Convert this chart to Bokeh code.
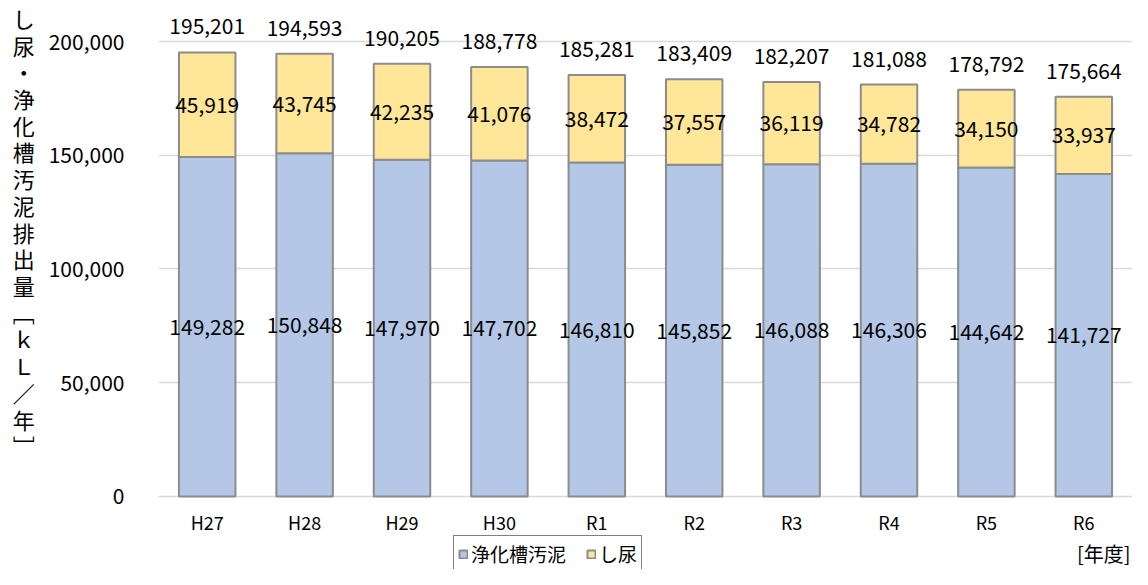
from bokeh.plotting import figure
from bokeh.models import (ColumnDataSource, FactorRange, FixedTicker, NumeralTickFormatter,
                          Legend, LegendItem, Label, Range1d)
from bokeh.core.properties import value
from bokeh.embed import file_html
from bokeh.resources import INLINE

years = ["H27", "H28", "H29", "H30", "R1", "R2", "R3", "R4", "R5", "R6"]
johkaso = [149282, 150848, 147970, 147702, 146810, 145852, 146088, 146306, 144642, 141727]
shinyo = [45919, 43745, 42235, 41076, 38472, 37557, 36119, 34782, 34150, 33937]
totals = [195201, 194593, 190205, 188778, 185281, 183409, 182207, 181088, 178792, 175664]
y_ticks = [0, 50000, 100000, 150000, 200000]
series_names = ["浄化槽汚泥", "し尿"]
y_title_chars = ["し", "尿", "・", "浄", "化", "槽", "汚", "泥", "排", "出", "量", "﹇", "ｋ", "Ｌ", "／", "年", "﹈"]
x_unit_label = "[年度]"

FONT = "Noto Sans CJK JP"
BLUE = "#b4c7e7"
YELLOW = "#ffe699"
EDGE = "#8c8c8c"

src = ColumnDataSource(dict(
    year=years,
    johkaso=johkaso,
    shinyo=shinyo,
    total=totals,
    zero=[0] * len(years),
    mid_j=[j / 2 for j in johkaso],
    mid_s=[j + s / 2 for j, s in zip(johkaso, shinyo)],
    lab_j=[f"{v:,}" for v in johkaso],
    lab_s=[f"{v:,}" for v in shinyo],
    lab_t=[f"{v:,}" for v in totals],
))

p = figure(width=1132, height=569, output_backend="svg", toolbar_location=None,
           x_range=FactorRange(*years, range_padding=0),
           y_range=Range1d(-32088, 218022),
           min_border_left=158, min_border_right=0, min_border_top=0, min_border_bottom=0)

rs = p.vbar_stack(["johkaso", "shinyo"], x="year", width=0.58, source=src,
                  fill_color=[BLUE, YELLOW], line_color=EDGE, line_width=2)

common = dict(text_font=value(FONT), text_font_size="21px", text_color="black",
              text_align="center", text_baseline="middle")
p.text(x="year", y="mid_j", text="lab_j", source=src, **common)
p.text(x="year", y="mid_s", text="lab_s", source=src, **common)
p.text(x="year", y="total", text="lab_t", y_offset=-26, source=src, **common)
# category (x-axis) labels
p.text(x="year", y="zero", text="year", y_offset=26, source=src,
       text_font=value(FONT), text_font_size="18px", text_color="black",
       text_align="center", text_baseline="middle")

p.outline_line_color = None
p.xaxis.visible = False
p.xgrid.grid_line_color = None
p.ygrid.grid_line_color = "#d9d9d9"
p.ygrid.grid_line_width = 1.5

ya = p.yaxis[0]
ya.ticker = FixedTicker(ticks=y_ticks)
ya.formatter = NumeralTickFormatter(format="0,0")
ya.axis_line_color = None
ya.major_tick_line_color = None
ya.minor_tick_line_color = None
ya.major_label_text_font = FONT
ya.major_label_text_font_size = "21px"
ya.major_label_text_color = "black"
ya.major_label_standoff = 28
ya.axis_label = "\n".join(y_title_chars + ["　"] * 4)
ya.axis_label_orientation = "horizontal"
ya.axis_label_text_font = FONT
ya.axis_label_text_font_size = "22px"
ya.axis_label_text_font_style = "normal"
ya.axis_label_text_color = "black"
ya.axis_label_text_line_height = 0.835
ya.axis_label_standoff = 11

legend = Legend(items=[LegendItem(label=series_names[0], renderers=[rs[0]]),
                       LegendItem(label=series_names[1], renderers=[rs[1]])],
                orientation="horizontal", location=(295, -3))
legend.label_text_font = FONT
legend.label_text_font_size = "19px"
legend.label_text_color = "black"
legend.label_height = 10
legend.glyph_width = 10
legend.glyph_height = 10
legend.spacing = 20
legend.padding = 4
legend.margin = 0
legend.border_line_color = "black"
legend.border_line_width = 1
legend.label_standoff = 3
p.add_layout(legend, "center")

p.add_layout(Label(x=1130, y=553, x_units="canvas", y_units="canvas", text=x_unit_label,
                   text_font=FONT, text_font_size="20px", text_align="right",
                   text_baseline="middle", text_color="black"))

open("out.html", "w").write(file_html(p, INLINE))
